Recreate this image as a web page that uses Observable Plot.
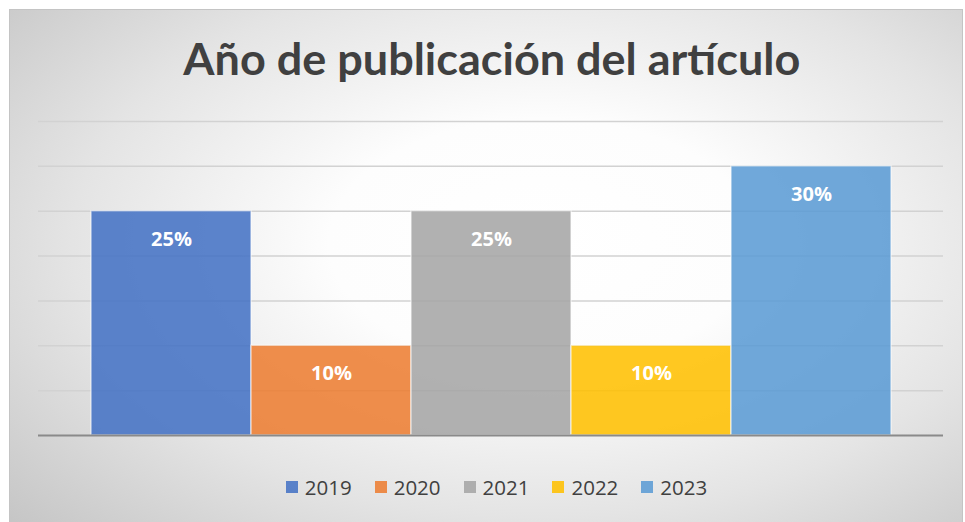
<!DOCTYPE html>
<html><head><meta charset="utf-8">
<script src="https://cdn.jsdelivr.net/npm/d3@7"></script>
<script src="https://cdn.jsdelivr.net/npm/@observablehq/plot@0.6"></script>
<style>
body{margin:0;width:965px;height:522px;overflow:hidden;background:#fff;font-family:"Open Sans",sans-serif;position:relative}
#frame{position:absolute;left:9px;top:9px;width:954px;height:520px;border:1px solid #C4C4C4;box-sizing:border-box;
 background:radial-gradient(ellipse 75% 80% at 56% 45%, #ffffff 0%, #fdfdfd 30%, #e4e4e4 66%, #c6c6c6 100%);}
#title{position:absolute;left:0;top:29px;width:983px;text-align:center;line-height:60px;white-space:nowrap}
#title span{display:inline-block;font-family:Lato,"Open Sans",sans-serif;font-weight:700;font-size:43px;color:#404040;transform-origin:50% 50%}
#chart{position:absolute;left:0;top:0}
#legend{position:absolute;top:473px;left:0;width:993px;display:flex;justify-content:center;font-size:20.5px;color:#404040;line-height:28px}
.item{display:flex;align-items:center;margin-right:23px}
.item:last-child{margin-right:0}
.sw{width:12px;height:12px;margin-right:7px}
</style></head>
<body>
<div id="frame"></div>
<div id="title"><span id="ttext">Año de publicación del artículo</span></div>
<div id="chart"></div>
<div id="legend"></div>
<script>
const years = ["2019", "2020", "2021", "2022", "2023"];
const shares = [0.25, 0.10, 0.25, 0.10, 0.30];
const palette = ["#4472C4", "#ED7D31", "#A5A5A5", "#FFC000", "#5B9BD5"];
const gridTicks = [0.05, 0.10, 0.15, 0.20, 0.25, 0.30, 0.35];

const data = years.map((y, i) => ({year: y, value: shares[i]}));

const plot = Plot.plot({
  width: 965,
  height: 522,
  marginLeft: 38,
  marginRight: 22,
  marginTop: 0,
  marginBottom: 0,
  style: {background: "transparent", fontFamily: "'Open Sans', sans-serif"},
  x: {domain: years, range: [91, 891], padding: 0, axis: null},
  y: {domain: [0, 0.35], range: [435, 121], axis: null},
  color: {domain: years, range: palette},
  marks: [
    Plot.ruleY(gridTicks, {stroke: "#D2D2D2", strokeWidth: 1.5}),
    Plot.barY(data, {x: "year", y: "value", fill: "year", fillOpacity: 0.87, stroke: "#ffffff", strokeOpacity: 0.55, strokeWidth: 1.5, inset: 0}),
    Plot.ruleY([0], {stroke: "#8A8A8A", strokeWidth: 2}),
    Plot.text(data, {x: "year", y: "value", text: d => Math.round(d.value * 100) + "%", dy: 28, fill: "white", fontWeight: 700, fontSize: 20})
  ]
});
document.getElementById("chart").appendChild(plot);

// fit title width to the reference's width
const tt = document.getElementById("ttext");
const w = tt.getBoundingClientRect().width;
if (w > 0) tt.style.transform = `scaleX(${617 / w})`;

const legend = document.getElementById("legend");
years.forEach((y, i) => {
  const it = document.createElement("div");
  it.className = "item";
  const sw = document.createElement("div");
  sw.className = "sw";
  sw.style.background = palette[i];
  sw.style.opacity = 0.87;
  const t = document.createElement("span");
  t.textContent = y;
  it.appendChild(sw); it.appendChild(t);
  legend.appendChild(it);
});
</script>
</body></html>
